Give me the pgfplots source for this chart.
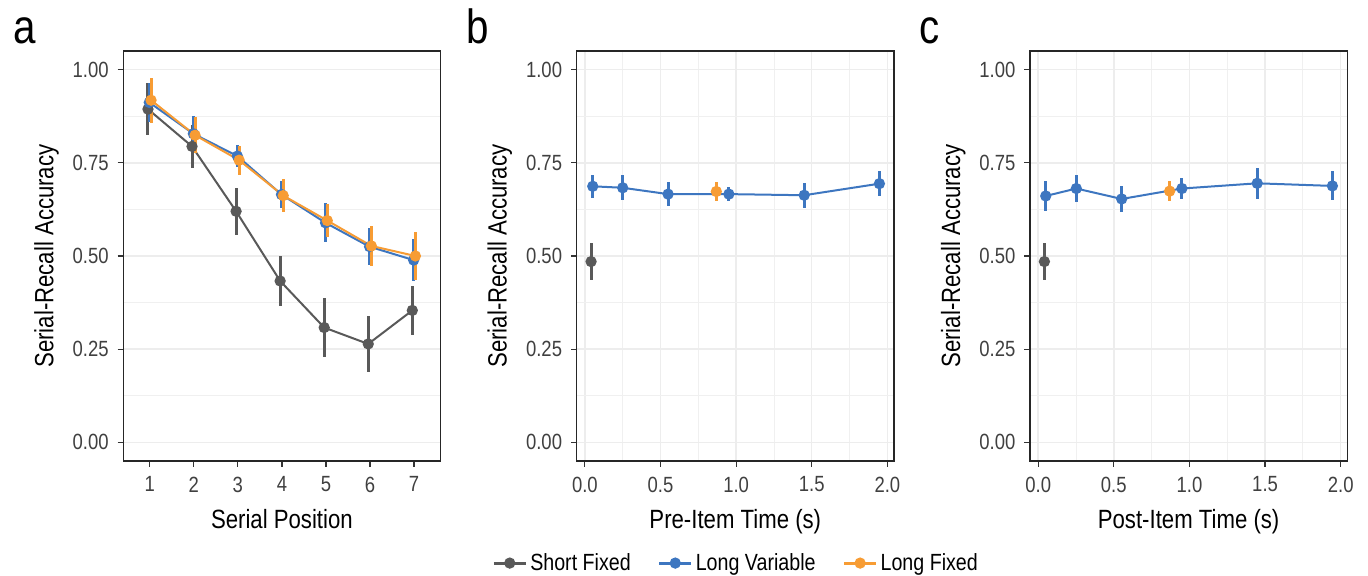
\documentclass[border=0pt]{standalone}
\usepackage{fontspec}
\setmainfont{Liberation Sans}[FakeStretch=0.84]
\usepackage{pgfplots}
\pgfplotsset{compat=1.18}

\definecolor{sfgray}{RGB}{89,89,89}
\definecolor{lvblue}{RGB}{61,118,192}
\definecolor{lforange}{RGB}{247,156,52}

\pgfplotsset{
  panel/.style={
    scale only axis,
    width=158.6pt, height=205pt,
    ymin=-0.05, ymax=1.05,
    ytick={0,0.25,0.5,0.75,1},
    minor y tick num=1,
    yticklabel style={/pgf/number format/.cd, fixed, fixed zerofill, precision=2, /tikz/.cd, xshift=-1pt},
    /pgf/number format/assume math mode=true,
    tick align=outside,
    xtick pos=bottom, ytick pos=left,
    major tick length=2.8pt, minor tick length=0pt,
    tick style={black!80, line width=0.6pt},
    axis line style={black!85, line width=0.6pt},
    major grid style={black!7, line width=0.7pt},
    minor grid style={black!6, line width=0.45pt},
    ticklabel style={font=\fontsize{11}{13}\selectfont, text=black!75},
    xticklabel style={yshift=-1.5pt},
    every axis y label/.style={at={([xshift=-35pt]axis description cs:0,0.5)}, anchor=base, rotate=90, font=\fontsize{13.2}{15}\selectfont},
    every axis x label/.style={at={([yshift=-34pt]axis description cs:0.5,0)}, anchor=base, font=\fontsize{13.2}{15}\selectfont},
    error bars/y dir=both, error bars/y explicit,
    error bars/error mark=none,
    error bars/error bar style={line width=1.5pt},
    legend image code/.code={
      \draw[#1, mark=none, line width=1.5pt] (0pt,0pt) -- (16pt,0pt);
      \fill[#1] (8pt,0pt) circle (2.3pt);
    },
  },
  ser/.style={color=#1, line width=1pt, mark=*, mark size=2.3pt, mark options={solid, fill=#1, draw=#1}},
  timepanel/.style={
    xmin=-0.054, xmax=2.043,
    xtick={0,0.5,1,1.5,2},
    minor x tick num=1,
    xticklabel style={/pgf/number format/.cd, fixed, fixed zerofill, precision=1},
    grid=both,
  },
}

\begin{document}
\begin{tikzpicture}
\path[use as bounding box] (0pt,0pt) rectangle (684pt,288pt);

% panel a
\begin{axis}[panel,
  at={(61.65pt,57.5pt)}, anchor=south west,
  xmin=0.4, xmax=7.6,
  xtick={1,2,3,4,5,6,7},
  ymajorgrids, yminorgrids,
  xlabel={Serial Position},
  ylabel={Serial-Recall Accuracy},
]
\addplot[ser=sfgray] coordinates {
  (0.96,0.894) +- (0,0.069)
  (1.96,0.794) +- (0,0.058)
  (2.96,0.620) +- (0,0.063)
  (3.96,0.433) +- (0,0.067)
  (4.96,0.308) +- (0,0.080)
  (5.96,0.264) +- (0,0.075)
  (6.96,0.354) +- (0,0.066)
};
\addplot[ser=lvblue] coordinates {
  (0.99,0.912) +- (0,0.052)
  (1.99,0.828) +- (0,0.047)
  (2.99,0.768) +- (0,0.030)
  (3.99,0.665) +- (0,0.037)
  (4.99,0.589) +- (0,0.052)
  (5.99,0.525) +- (0,0.050)
  (6.99,0.489) +- (0,0.057)
};
\addplot[ser=lforange] coordinates {
  (1.03,0.918) +- (0,0.060)
  (2.03,0.824) +- (0,0.048)
  (3.03,0.757) +- (0,0.039)
  (4.03,0.662) +- (0,0.045)
  (5.03,0.595) +- (0,0.045)
  (6.03,0.527) +- (0,0.053)
  (7.03,0.500) +- (0,0.064)
};
\end{axis}

% panel b
\begin{axis}[panel, timepanel,
  at={(288.35pt,57.5pt)}, anchor=south west,
  xlabel={Pre-Item Time (s)},
  ylabel={Serial-Recall Accuracy},
  legend style={at={(0.504,-0.249)}, anchor=center, draw=none, fill=none,
    legend columns=3, font=\fontsize{11.7}{14}\selectfont,
    nodes={inner xsep=1.5pt},
    /tikz/every even column/.append style={column sep=12pt}},
  legend cell align=left,
]
\addplot[ser=sfgray] coordinates {
  (0.041,0.485) +- (0,0.049)
};
\addlegendentry{Short Fixed}
\addplot[ser=lvblue] coordinates {
  (0.052,0.687) +- (0,0.031)
  (0.250,0.683) +- (0,0.034)
  (0.550,0.666) +- (0,0.033)
  (0.952,0.666) +- (0,0.018)
  (1.450,0.663) +- (0,0.034)
  (1.947,0.694) +- (0,0.034)
};
\addlegendentry{Long Variable}
\addplot[ser=lforange] coordinates {
  (0.869,0.673) +- (0,0.026)
};
\addlegendentry{Long Fixed}
\end{axis}

% panel c
\begin{axis}[panel, timepanel,
  at={(515pt,57.5pt)}, anchor=south west,
  xlabel={Post-Item Time (s)},
  ylabel={Serial-Recall Accuracy},
]
\addplot[ser=sfgray] coordinates {
  (0.041,0.485) +- (0,0.049)
};
\addplot[ser=lvblue] coordinates {
  (0.050,0.661) +- (0,0.039)
  (0.252,0.681) +- (0,0.035)
  (0.552,0.653) +- (0,0.034)
  (0.950,0.681) +- (0,0.027)
  (1.448,0.695) +- (0,0.042)
  (1.945,0.688) +- (0,0.039)
};
\addplot[ser=lforange] coordinates {
  (0.869,0.674) +- (0,0.027)
};
\end{axis}

% panel letters
\node[anchor=base west, inner sep=0pt, font=\fontsize{24}{24}\selectfont] at (6.3pt,266.4pt) {a};
\node[anchor=base west, inner sep=0pt, font=\fontsize{24}{24}\selectfont] at (233pt,266.4pt) {b};
\node[anchor=base west, inner sep=0pt, font=\fontsize{24}{24}\selectfont] at (459.7pt,266.4pt) {c};
\end{tikzpicture}
\end{document}
